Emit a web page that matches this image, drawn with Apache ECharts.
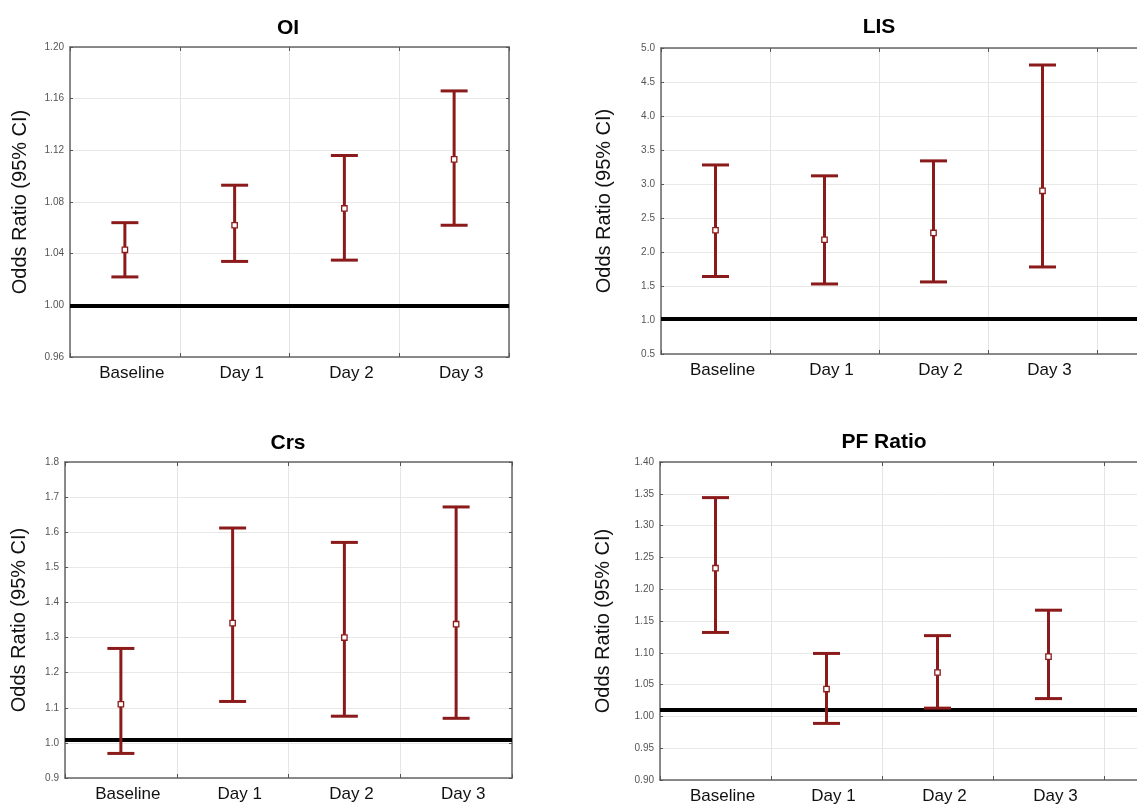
<!DOCTYPE html>
<html><head><meta charset="utf-8">
<script src="https://cdn.jsdelivr.net/npm/echarts@6/dist/echarts.min.js"></script>
<style>html,body{margin:0;padding:0;background:#fff;overflow:hidden}#c{width:1260px;height:807px}</style>
</head><body><div id="c"></div>
<script>
const categories = ['Baseline', 'Day 1', 'Day 2', 'Day 3'];

const oiLower = [1.022, 1.034, 1.035, 1.062];
const oiOR    = [1.043, 1.062, 1.075, 1.113];
const oiUpper = [1.064, 1.093, 1.116, 1.166];
const oiTicks = [0.96, 1.00, 1.04, 1.08, 1.12, 1.16, 1.20];
const oiRef = 0.997;

const lisLower = [1.64, 1.53, 1.56, 1.78];
const lisOR    = [2.32, 2.18, 2.28, 2.90];
const lisUpper = [3.28, 3.12, 3.34, 4.75];
const lisTicks = [0.5, 1.0, 1.5, 2.0, 2.5, 3.0, 3.5, 4.0, 4.5, 5.0];
const lisRef = 1.02;

const crsLower = [0.970, 1.118, 1.076, 1.070];
const crsOR    = [1.110, 1.341, 1.300, 1.338];
const crsUpper = [1.269, 1.612, 1.571, 1.672];
const crsTicks = [0.9, 1.0, 1.1, 1.2, 1.3, 1.4, 1.5, 1.6, 1.7, 1.8];
const crsRef = 1.006;

const pfLower = [1.132, 0.989, 1.013, 1.028];
const pfOR    = [1.233, 1.043, 1.069, 1.094];
const pfUpper = [1.344, 1.099, 1.127, 1.167];
const pfTicks = [0.90, 0.95, 1.00, 1.05, 1.10, 1.15, 1.20, 1.25, 1.30, 1.35, 1.40];
const pfRef = 1.006;

const RED = '#8b1a1a';
const FONT = 'Liberation Sans, Arial, sans-serif';

const panels = [
  {title: 'OI', lower: oiLower, or: oiOR, upper: oiUpper, ticks: oiTicks, ref: oiRef, dec: 2,
   grid: {left: 70, top: 47, width: 439, height: 310}, titlePos: [283, 13], nameGap: 40, extra: false},
  {title: 'LIS', lower: lisLower, or: lisOR, upper: lisUpper, ticks: lisTicks, ref: lisRef, dec: 1,
   grid: {left: 661, top: 48, width: 545, height: 306}, titlePos: [874, 12], nameGap: 47, extra: true},
  {title: 'Crs', lower: crsLower, or: crsOR, upper: crsUpper, ticks: crsTicks, ref: crsRef, dec: 1,
   grid: {left: 65, top: 462, width: 447, height: 316}, titlePos: [283, 428], nameGap: 36, extra: false},
  {title: 'PF Ratio', lower: pfLower, or: pfOR, upper: pfUpper, ticks: pfTicks, ref: pfRef, dec: 2,
   grid: {left: 660, top: 462, width: 555, height: 318}, titlePos: [879, 427], nameGap: 47, extra: true}
];

function renderBar(params, api) {
  const x = api.value(0);
  const lo = api.coord([x, api.value(1)]);
  const mid = api.coord([x, api.value(2)]);
  const hi = api.coord([x, api.value(3)]);
  const half = 13.5;
  const st = {stroke: RED, lineWidth: 3, fill: null};
  return {type: 'group', children: [
    {type: 'line', shape: {x1: hi[0], y1: hi[1], x2: lo[0], y2: lo[1]}, style: st},
    {type: 'line', shape: {x1: hi[0] - half, y1: hi[1], x2: hi[0] + half, y2: hi[1]}, style: st},
    {type: 'line', shape: {x1: lo[0] - half, y1: lo[1], x2: lo[0] + half, y2: lo[1]}, style: st},
    {type: 'rect', shape: {x: mid[0] - 2.7, y: mid[1] - 2.7, width: 5.4, height: 5.4},
     style: {fill: '#fff', stroke: RED, lineWidth: 1.3}}
  ]};
}

const option = {animation: false, backgroundColor: '#fff', title: [], grid: [], xAxis: [], yAxis: [], series: []};
const axisLineStyle = {color: '#666', width: 1.5};

panels.forEach((p, i) => {
  const t = p.ticks;
  const interval = Math.round((t[1] - t[0]) * 1000) / 1000;
  const cats = p.extra ? categories.concat(['']) : categories;
  option.title.push({text: p.title, left: p.titlePos[0], top: p.titlePos[1], textAlign: 'center',
    textStyle: {fontFamily: FONT, fontSize: 21, fontWeight: 'bold', color: '#000'}});
  option.grid.push(Object.assign({containLabel: false, show: false}, p.grid));
  option.xAxis.push({gridIndex: i, type: 'category', data: cats, boundaryGap: true,
    axisLine: {show: true, lineStyle: axisLineStyle},
    axisTick: {show: true, inside: true, length: 4, lineStyle: {color: '#555'}},
    axisLabel: {fontFamily: FONT, fontSize: 17, color: '#111', margin: 8, padding: [0, 0, 0, 14], interval: 0},
    splitLine: {show: true, interval: 0, lineStyle: {color: '#e4e4e4', width: 1}}});
  option.xAxis.push({gridIndex: i, type: 'category', data: cats, position: 'top', boundaryGap: true,
    axisLine: {show: true, lineStyle: axisLineStyle},
    axisTick: {show: true, inside: true, length: 4, lineStyle: {color: '#555'}},
    axisLabel: {show: false}, splitLine: {show: false}});
  option.yAxis.push({gridIndex: i, type: 'value', min: t[0], max: t[t.length - 1], interval: interval,
    name: 'Odds Ratio (95% CI)', nameLocation: 'middle', nameGap: p.nameGap,
    nameTextStyle: {fontFamily: FONT, fontSize: 20, color: '#111'},
    axisLine: {show: true, lineStyle: axisLineStyle},
    axisTick: {show: true, inside: true, length: 3, lineStyle: {color: '#555'}},
    axisLabel: {fontFamily: FONT, fontSize: 10, color: '#555', margin: 6,
      formatter: v => v.toFixed(p.dec)},
    splitLine: {show: true, lineStyle: {color: '#e8e8e8', width: 1}}});
  option.yAxis.push({gridIndex: i, type: 'value', min: t[0], max: t[t.length - 1], interval: interval,
    position: 'right',
    axisLine: {show: true, lineStyle: axisLineStyle},
    axisTick: {show: true, inside: true, length: 3, lineStyle: {color: '#555'}},
    axisLabel: {show: false}, splitLine: {show: false}});
  const data = p.or.map((v, k) => [k, p.lower[k], v, p.upper[k]]);
  option.series.push({type: 'custom', xAxisIndex: 2 * i, yAxisIndex: 2 * i, z: 3,
    renderItem: renderBar, encode: {x: 0, y: [1, 2, 3]}, data: data,
    markLine: {silent: true, symbol: 'none', z: 2, label: {show: false},
      lineStyle: {color: '#000', width: 4, type: 'solid'}, data: [{yAxis: p.ref}]}});
});

const chart = echarts.init(document.getElementById('c'), null, {renderer: 'canvas'});
chart.setOption(option);
</script>
</body></html>
